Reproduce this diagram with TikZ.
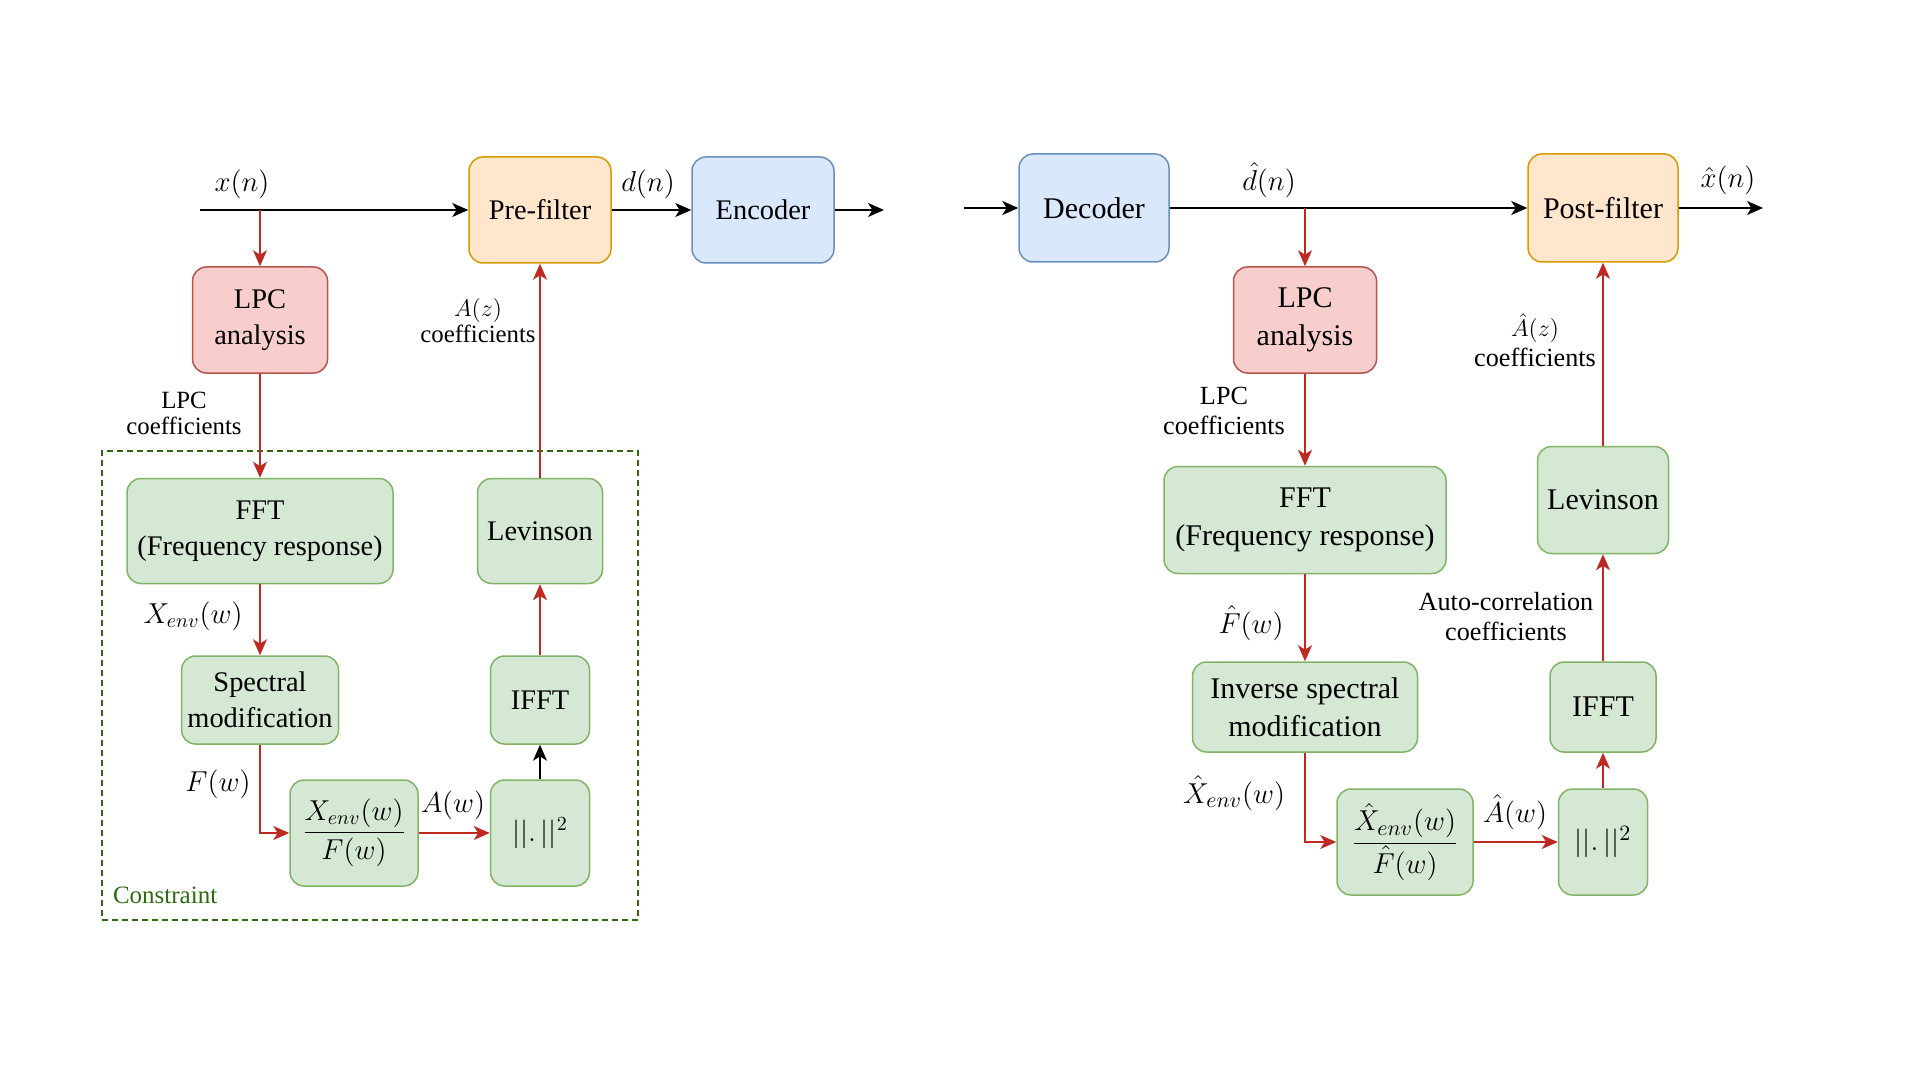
\documentclass[tikz,border=0pt]{standalone}
\usepackage{fontspec}
\setmainfont{Liberation Serif}
\usetikzlibrary{arrows.meta}
\definecolor{gfill}{HTML}{D5E8D4}
\definecolor{gline}{HTML}{82B366}
\definecolor{rfill}{HTML}{F8CECC}
\definecolor{rline}{HTML}{B85450}
\definecolor{bfill}{HTML}{DAE8FC}
\definecolor{bline}{HTML}{6C8EBF}
\definecolor{ofill}{HTML}{FFE6CC}
\definecolor{oline}{HTML}{D79B00}
\definecolor{arrred}{HTML}{BE2A22}
\definecolor{cgreen}{HTML}{2D6A10}

\begin{document}
\begin{tikzpicture}[x=0.5pt,y=-0.5pt,
  box/.style={draw,rounded corners=7pt,line width=0.75pt,align=center,inner sep=2pt},
  gbox/.style={box,draw=gline,fill=gfill},
  rbox/.style={box,draw=rline,fill=rfill},
  bbox/.style={box,draw=bline,fill=bfill},
  obox/.style={box,draw=oline,fill=ofill},
  sig/.style={-{Stealth[length=8pt,width=7pt,inset=2.2pt]},line width=0.75pt},
  sigr/.style={sig,draw=arrred},
  notel/.style={font=\fontsize{12.4}{13}\selectfont,align=center},
  noter/.style={font=\fontsize{13.1}{15}\selectfont,align=center}]
\useasboundingbox (0,0) rectangle (1920,1080);

% encoder side
\begin{scope}[font=\fontsize{14.2}{18}\selectfont]
\node[draw=cgreen,dashed,dash pattern=on 3pt off 2pt,line width=0.75pt,minimum width=268pt,minimum height=234.5pt] (cons) at (370,685.5) {};
\node[anchor=west,text=cgreen,font=\fontsize{12.5}{14}\selectfont] (conslbl) at (106,895) {Constraint};

\node[obox,minimum width=71pt,minimum height=53pt] (pre) at (540,210) {Pre-filter};
\node[bbox,minimum width=71pt,minimum height=53pt] (enc) at (763,210) {Encoder};
\node[rbox,minimum width=67.5pt,minimum height=53pt] (lpc) at (260,320) {LPC\\analysis};
\node[gbox,minimum width=133pt,minimum height=52.5pt] (fft) at (260,531) {FFT\\(Frequency response)};
\node[gbox,minimum width=62.5pt,minimum height=52.5pt] (lev) at (540,531) {Levinson};
\node[gbox,minimum width=78.5pt,minimum height=44pt] (spec) at (260,700) {Spectral\\modification};
\node[gbox,minimum width=49.5pt,minimum height=44pt] (ifft) at (540,700) {IFFT};
\node[gbox,minimum width=64pt,minimum height=53pt] (frac) at (354,833) {$\displaystyle\frac{X_{env}(w)}{F(w)}$};
\node[gbox,minimum width=49.5pt,minimum height=53pt] (norm) at (540,833) {$||.\,||^2$};

\node (xn) at (242,184) {$x(n)$};
\node (dn) at (648,184) {$d(n)$};
\node[notel] (lpcc) at (184,413) {LPC\\coefficients};
\node[notel] (azc) at (478,321) {$A(z)$\\coefficients};
\node (xenv) at (193,616) {$X_{env}(w)$};
\node (fw) at (218,784) {$F(w)$};
\node (aw) at (453,805) {$A(w)$};

\coordinate (xin) at (200,210);
\coordinate (xbr) at (260,210);
\coordinate (encout) at (884,210);
\draw[sig] (xin) -- (pre);
\draw[sig] (pre) -- (enc);
\draw[sig] (enc) -- (encout);
\draw[sigr] (xbr) -- (lpc);
\draw[sigr] (lpc) -- (fft);
\draw[sigr] (fft) -- (spec);
\draw[sigr] (spec) |- (frac);
\draw[sigr] (frac) -- (norm);
\draw[sig] (norm) -- (ifft);
\draw[sigr] (ifft) -- (lev);
\draw[sigr] (lev) -- (pre);
\end{scope}

% decoder side
\begin{scope}[font=\fontsize{15}{19}\selectfont]
\node[bbox,minimum width=75pt,minimum height=54pt] (dec) at (1094,208) {Decoder};
\node[obox,minimum width=75pt,minimum height=54pt] (post) at (1603,208) {Post-filter};
\node[rbox,minimum width=71.5pt,minimum height=53pt] (lpc2) at (1305,320) {LPC\\analysis};
\node[gbox,minimum width=141pt,minimum height=53.5pt] (fft2) at (1305,520) {FFT\\(Frequency response)};
\node[gbox,minimum width=112.5pt,minimum height=45pt] (ism) at (1305,707) {Inverse spectral\\modification};
\node[gbox,minimum width=68pt,minimum height=53pt] (frac2) at (1405,842) {$\displaystyle\frac{\hat{X}_{env}(w)}{\hat{F}(w)}$};
\node[gbox,minimum width=44.5pt,minimum height=53pt] (norm2) at (1603,842) {$||.\,||^2$};
\node[gbox,minimum width=53pt,minimum height=45pt] (ifft2) at (1603,707) {IFFT};
\node[gbox,minimum width=65.5pt,minimum height=53.5pt] (lev2) at (1603,500) {Levinson};

\node (dhat) at (1269,180) {$\hat{d}(n)$};
\node (xhat) at (1728,180) {$\hat{x}(n)$};
\node[noter] (lpcc2) at (1224,411) {LPC\\coefficients};
\node[noter] (ahz) at (1535,340) {$\hat{A}(z)$\\coefficients};
\node (fhat) at (1251,623) {$\hat{F}(w)$};
\node[noter] (acc) at (1506,617) {Auto-correlation\\coefficients};
\node (xhenv) at (1234,793) {$\hat{X}_{env}(w)$};
\node (ahw) at (1515,812) {$\hat{A}(w)$};

\coordinate (decin) at (964,208);
\coordinate (dbr) at (1305,208);
\coordinate (xout) at (1763,208);
\draw[sig] (decin) -- (dec);
\draw[sig] (dec) -- (post);
\draw[sig] (post) -- (xout);
\draw[sigr] (dbr) -- (lpc2);
\draw[sigr] (lpc2) -- (fft2);
\draw[sigr] (fft2) -- (ism);
\draw[sigr] (ism) |- (frac2);
\draw[sigr] (frac2) -- (norm2);
\draw[sigr] (norm2) -- (ifft2);
\draw[sigr] (ifft2) -- (lev2);
\draw[sigr] (lev2) -- (post);
\end{scope}
\end{tikzpicture}
\end{document}
